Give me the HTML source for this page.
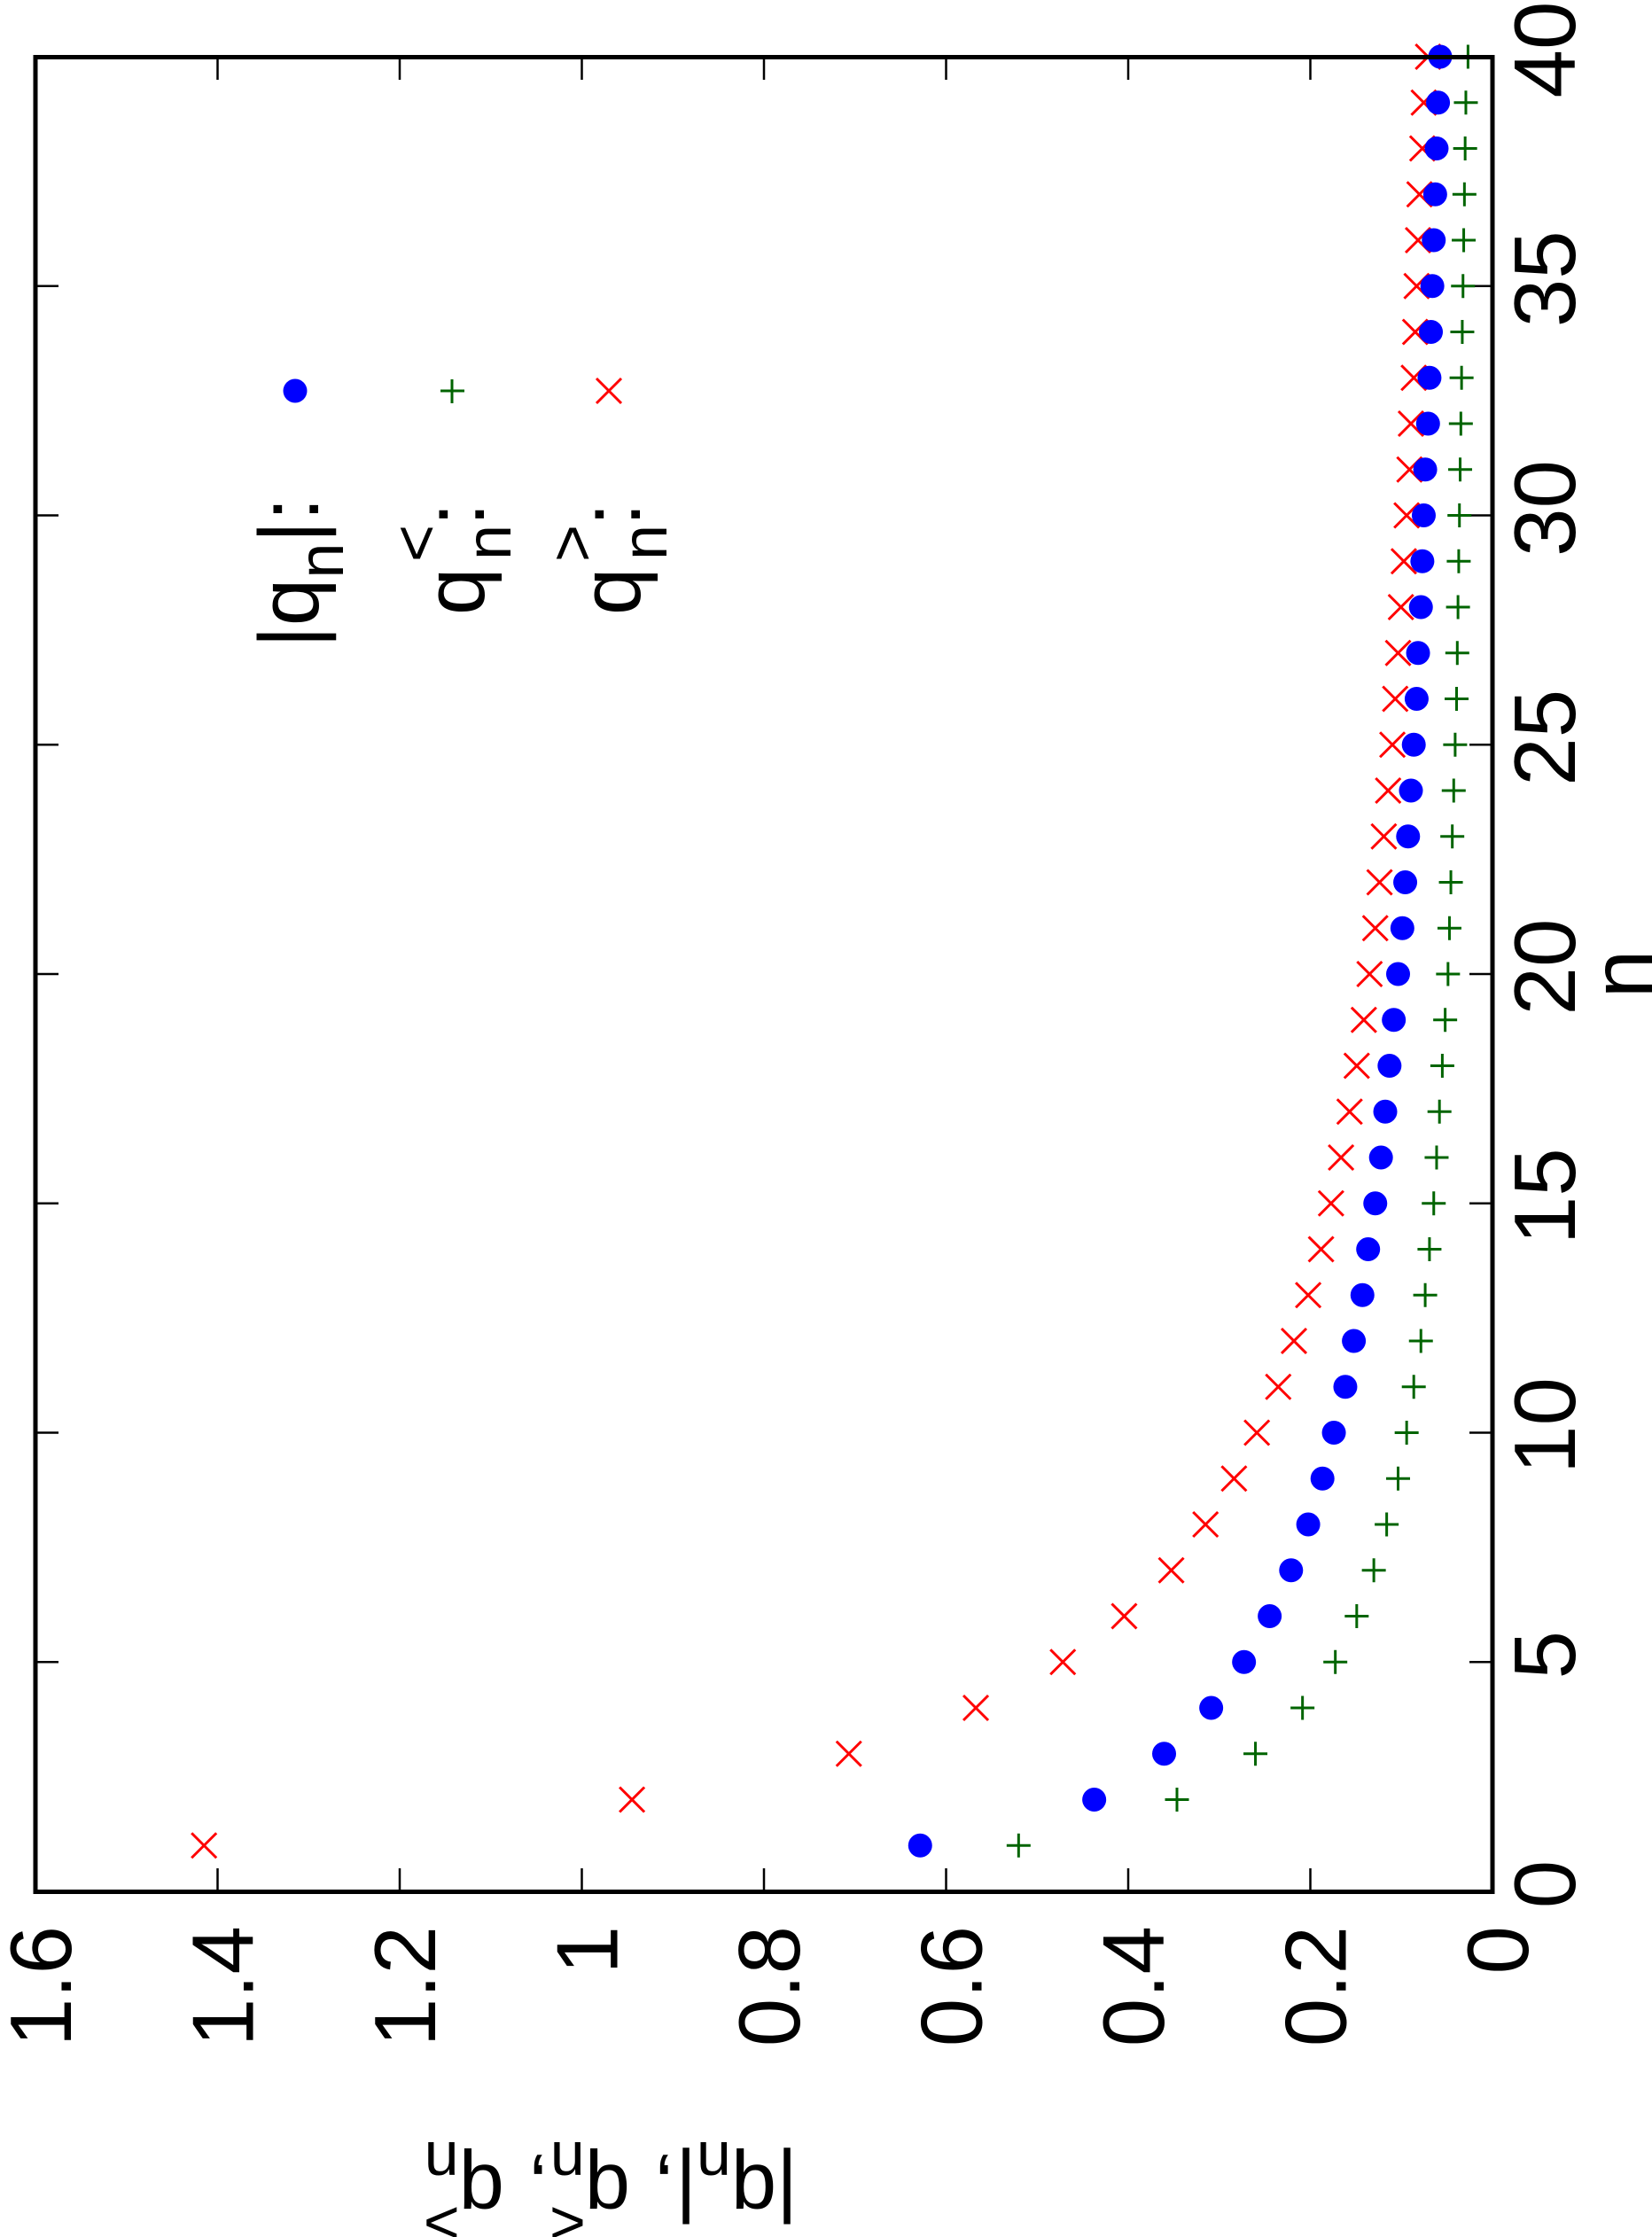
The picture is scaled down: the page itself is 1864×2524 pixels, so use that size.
<!DOCTYPE html>
<html><head><meta charset="utf-8"><style>
html,body{margin:0;padding:0;background:#fff;}
svg{display:block;font-family:"Liberation Sans",sans-serif;}
</style></head><body>
<svg id="s" width="1864" height="2524" viewBox="0 0 1864 2524" xmlns="http://www.w3.org/2000/svg">
<rect width="1864" height="2524" fill="#fff"/>
<g id="ticks" stroke="#000" stroke-width="2.5"></g>
<g id="pts"></g>
<rect x="40" y="64.5" width="1644" height="2070" fill="none" stroke="#000" stroke-width="5"/>
<g id="labels" font-size="98" fill="#000"></g>
<!-- legend -->
<circle cx="333" cy="441" r="13.5" fill="#0000ff"/>
<g stroke="#006400" stroke-width="3"><line x1="497" y1="441" x2="524" y2="441"/><line x1="510" y1="428" x2="510" y2="455"/></g>
<g stroke="#ff0000" stroke-width="3"><line x1="673" y1="427" x2="701" y2="455"/><line x1="673" y1="455" x2="701" y2="427"/></g>
<g font-size="96" fill="#000">
<text transform="translate(359,731) rotate(-90)">|q<tspan font-size="72" dy="28">n</tspan><tspan dy="-28">|:</tspan></text>
<text transform="translate(546,694) rotate(-90)">q</text>
<text transform="translate(546,632) rotate(-90)" font-size="72"><tspan dy="30">n</tspan></text>
<text transform="translate(546,634) rotate(-90)" font-size="72"><tspan dy="-52">&lt;</tspan></text>
<text transform="translate(546,567) rotate(-90)" text-anchor="end">:</text>
<text transform="translate(722,694) rotate(-90)">q</text>
<text transform="translate(722,632) rotate(-90)" font-size="72"><tspan dy="30">n</tspan></text>
<text transform="translate(722,634) rotate(-90)" font-size="72"><tspan dy="-52">&gt;</tspan></text>
<text transform="translate(722,567) rotate(-90)" text-anchor="end">:</text>
</g>
<!-- y axis label -->
<text transform="translate(900,2443) rotate(180)" font-size="92" fill="#000">|q<tspan font-size="70" dy="26">n</tspan><tspan dy="-26">|, q</tspan><tspan font-size="70" dy="26">n</tspan><tspan font-size="70" dx="-40" dy="-68">&lt;</tspan><tspan dy="42">, q</tspan><tspan font-size="70" dy="26">n</tspan><tspan font-size="70" dx="-40" dy="-68">&gt;</tspan></text>
<!-- x axis label n -->
<text transform="translate(1864,1099) rotate(-90)" font-size="98" text-anchor="middle">n</text>
</svg>
<script>
var NS="http://www.w3.org/2000/svg";
function el(p,t,a,txt){var e=document.createElementNS(NS,t);for(var k in a)e.setAttribute(k,a[k]);if(txt!==undefined)e.textContent=txt;p.appendChild(e);return e;}
var S=1.6097;
var blue=[645,767,816,849,872,890,905,917,927,935,943,949,955,959,964,968,971,974,977,980,983,985,987,989,991,993,994,996,997,998,999,1001,1002,1003,1004,1005,1006,1007,1008,1009.5];
var green=[714,825,880,913,936,951,963,972,980,986,991,996,999,1002,1005,1007,1009,1011,1013,1015,1016,1017,1018,1019,1020,1021,1021.5,1022,1022.5,1023,1023.5,1024,1024.5,1025,1025.5,1026,1026.5,1027,1027.5,1029];
var red=[143,443,595,684,745,788,821,845,865,881,896,907,917,926,933,940,946,951,956,960,964,967,970,973,976,978,980,982,984,986,988,989,991,992,993,994,995,997,998,1001];
var P=document.getElementById('pts');
function Y(n){return 2134-n*51.75;}
for(var i=0;i<40;i++){
 var n=i+1,y=Y(n);
 var xr=red[i]*S; var g=el(P,'g',{stroke:'#ff0000','stroke-width':3});
 el(g,'line',{x1:xr-14,y1:y-14,x2:xr+14,y2:y+14});el(g,'line',{x1:xr-14,y1:y+14,x2:xr+14,y2:y-14});
 var xb=blue[i]*S; el(P,'circle',{cx:xb,cy:y,r:13.5,fill:'#0000ff'});
 var xg=green[i]*S; var h=el(P,'g',{stroke:'#006400','stroke-width':3});
 el(h,'line',{x1:xg-13.5,y1:y,x2:xg+13.5,y2:y});el(h,'line',{x1:xg,y1:y-13.5,x2:xg,y2:y+13.5});
}
var T=document.getElementById('ticks'),L=document.getElementById('labels');
var vl=['0','0.2','0.4','0.6','0.8','1','1.2','1.4','1.6'];
for(var k=0;k<=8;k++){
 var v=k*0.2,x=1684-v*1027.5;
 if(k>0&&k<8){el(T,'line',{x1:x,y1:2134,x2:x,y2:2108});el(T,'line',{x1:x,y1:64.5,x2:x,y2:90});}
 el(L,'text',{transform:'translate('+(x+40)+',2173) rotate(-90)','text-anchor':'end'},vl[k]);
}
for(var m=0;m<=8;m++){
 var n=m*5,y=Y(n);
 if(m>0&&m<8){el(T,'line',{x1:1684,y1:y,x2:1658,y2:y});el(T,'line',{x1:40,y1:y,x2:66,y2:y});}
 el(L,'text',{transform:'translate(1777,'+(y-8)+') rotate(-90)','text-anchor':'middle'},String(n));
}
</script>
</body></html>
